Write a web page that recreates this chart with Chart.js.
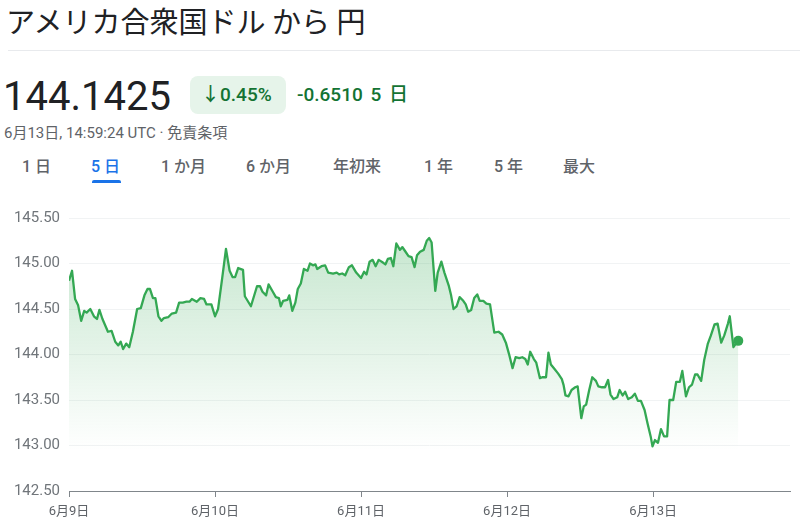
<!DOCTYPE html>
<html>
<head>
<meta charset="utf-8">
<script src="https://cdn.jsdelivr.net/npm/chart.js@4.4.1/dist/chart.umd.min.js"></script>
<style>
  html, body { margin: 0; padding: 0; background: #fff; width: 800px; height: 525px; overflow: hidden; }
  body { position: relative; font-family: Roboto, "Noto Sans CJK JP", sans-serif; }
  .abs { position: absolute; white-space: nowrap; }
  #title { left: 6px; top: 1px; font-size: 29px; color: #202124; font-family: "Noto Sans CJK JP", Roboto, sans-serif; line-height: 38px; }
  #sep { left: 8px; top: 50px; width: 792px; height: 1px; background: #e8eaed; }
  #price { left: 3px; top: 73px; font-size: 40px; color: #202124; line-height: 48px; font-family: Roboto, sans-serif; }
  #badge { left: 190px; top: 76px; width: 96px; height: 38px; background: #e6f4ea; border-radius: 8px; }
  #badgeText { left: 201px; top: 83px; font-size: 19px; font-weight: 500; color: #137333; line-height: 24px; }
  #change { left: 297px; top: 83px; font-size: 19px; font-weight: 500; color: #137333; line-height: 24px; word-spacing: 3px; }
  #stamp { left: 4px; top: 124px; font-size: 15px; color: #5f6368; line-height: 18px; }
  .tab { top: 156px; font-size: 16px; font-weight: 500; color: #5f6368; line-height: 22px; font-family: Roboto, "Noto Sans CJK JP", sans-serif; }
  #tabActive { color: #1a73e8; }
  #underline { left: 92px; top: 180px; width: 29px; height: 3px; background: #1a73e8; border-radius: 2px 2px 0 0; }
  #wrap { position: absolute; left: 0; top: 200px; width: 800px; height: 325px; }
</style>
</head>
<body>
<div class="abs" id="title">アメリカ合衆国ドル から 円</div>
<div class="abs" id="sep"></div>
<div class="abs" id="price">144.1425</div>
<div class="abs" id="badge"></div>
<div class="abs" id="badgeText">↓0.45%</div>
<div class="abs" id="change">-0.6510 5 日</div>
<div class="abs" id="stamp">6月13日, 14:59:24 UTC · 免責条項</div>
<div class="abs tab" style="left:22px">1 日</div>
<div class="abs tab" id="tabActive" style="left:91px">5 日</div>
<div class="abs tab" style="left:161px">1 か月</div>
<div class="abs tab" style="left:246px">6 か月</div>
<div class="abs tab" style="left:333px">年初来</div>
<div class="abs tab" style="left:424px">1 年</div>
<div class="abs tab" style="left:494px">5 年</div>
<div class="abs tab" style="left:563px">最大</div>
<div class="abs" id="underline"></div>
<div id="wrap"><canvas id="c" width="800" height="325"></canvas></div>
<script>
// Hours since 6月9日 00:00
const hours = [
  0.0, 0.5, 1.0, 1.5, 2.0, 2.5, 2.9, 3.5, 4.1, 4.6, 5.0, 5.5, 6.4, 7.0, 7.6, 8.1, 8.5, 8.9, 9.4, 9.9,
  10.5, 11.2, 11.8, 12.4, 12.9, 13.3, 13.8, 14.2, 14.7, 15.2, 15.6, 16.3, 16.9, 17.6, 18.1, 18.7, 19.3, 19.8, 20.2, 21.0,
  21.6, 22.2, 22.6, 23.4, 24.0, 24.5, 25.2, 25.8, 26.4, 26.9, 27.3,
  27.8, 28.6, 28.9, 29.9, 30.9, 31.4, 31.8, 32.4, 32.8, 33.5, 34.0, 34.5, 34.8, 35.2, 35.9, 36.2, 36.7, 37.2, 37.6, 38.1,
  38.6, 39.2, 39.6, 40.1, 40.5, 40.8, 41.5, 42.1, 42.6, 43.4, 44.0, 44.4, 44.9, 45.4, 46.0, 46.5, 47.2, 48.0, 48.5, 48.9,
  49.4, 49.9, 50.4, 50.9, 51.6, 52.0, 52.4, 52.9, 53.3, 53.8,
  54.4, 54.8, 55.2, 55.8, 56.3, 56.8, 57.2, 57.7, 58.3, 58.8, 59.2, 59.6, 60.2, 60.6, 61.2, 61.7, 62.4, 62.8, 63.2, 63.7,
  64.2, 64.8, 65.2, 65.6, 66.1, 66.6, 67.1, 67.5, 68.1, 68.6, 69.2, 69.9, 70.6, 71.2, 71.8, 72.3, 72.9, 73.4, 74.0, 74.5,
  75.0, 75.4, 75.8, 76.4, 76.8, 77.4, 77.8, 78.4, 78.8, 79.2, 79.8, 80.4, 81.0, 81.3, 81.6,
  82.1, 82.6, 83.2, 83.6, 84.2, 84.6, 85.0, 85.5, 86.0, 86.6, 87.0, 87.6, 88.1, 88.6, 89.0, 89.5, 90.1, 90.5, 91.0, 91.4,
  91.9, 92.5, 93.0, 93.5, 94.0, 94.6, 95.1, 95.6, 95.9, 96.3, 96.8, 97.3, 97.8, 98.3, 98.7, 99.3, 99.8, 100.4, 100.8, 101.4,
  101.9, 102.4, 102.9, 103.3, 103.9, 104.4, 105.0, 105.5, 106.1, 106.6, 107.2, 107.7, 108.3, 108.6, 109.2, 109.6, 110.0
];
// USD/JPY rate
const rates = [
  144.81, 144.92, 144.61, 144.54, 144.37, 144.48, 144.46, 144.50, 144.42, 144.39, 144.49, 144.39, 144.25, 144.26, 144.14, 144.10, 144.14, 144.06, 144.12, 144.08,
  144.25, 144.50, 144.51, 144.65, 144.72, 144.72, 144.62, 144.62, 144.42, 144.37, 144.40, 144.41, 144.45, 144.46, 144.57, 144.57, 144.58, 144.58, 144.61, 144.58,
  144.62, 144.61, 144.55, 144.55, 144.42, 144.50, 144.85, 145.16, 144.92, 144.85, 144.85,
  144.95, 144.93, 144.64, 144.53, 144.75, 144.75, 144.69, 144.65, 144.77, 144.69, 144.63, 144.62, 144.53, 144.59, 144.60, 144.65, 144.48, 144.57, 144.72, 144.78,
  144.94, 144.92, 145.00, 144.98, 144.99, 144.94, 144.97, 144.98, 144.90, 144.89, 144.90, 144.88, 144.89, 144.87, 144.96, 144.98, 144.90, 144.84, 144.91, 144.88,
  145.02, 145.04, 144.97, 145.04, 145.01, 144.99, 145.05, 145.06, 144.97, 145.22,
  145.15, 145.18, 145.14, 145.08, 145.07, 144.96, 145.09, 145.13, 145.15, 145.25, 145.28, 145.23, 144.70, 144.90, 145.02, 144.90, 144.76, 144.65, 144.50, 144.53,
  144.63, 144.59, 144.55, 144.47, 144.49, 144.62, 144.66, 144.59, 144.59, 144.56, 144.55, 144.24, 144.25, 144.22, 144.13, 144.01, 143.85, 143.97, 143.96, 143.97,
  143.95, 143.89, 144.03, 143.95, 143.91, 143.74, 143.75, 143.75, 144.02, 143.89, 143.84, 143.79, 143.73, 143.66, 143.55,
  143.54, 143.61, 143.64, 143.65, 143.30, 143.43, 143.45, 143.61, 143.75, 143.71, 143.65, 143.64, 143.64, 143.72, 143.56, 143.51, 143.53, 143.61, 143.55, 143.59,
  143.51, 143.53, 143.57, 143.49, 143.49, 143.39, 143.24, 143.10, 142.99, 143.06, 143.03, 143.18, 143.10, 143.10, 143.50, 143.50, 143.70, 143.70, 143.82, 143.54,
  143.64, 143.67, 143.78, 143.78, 143.71, 143.94, 144.12, 144.21, 144.33, 144.34, 144.13, 144.21, 144.34, 144.42, 144.08, 144.12, 144.15
];
const dayLabels = ['6月9日', '6月10日', '6月11日', '6月12日', '6月13日'];
const dayTickHours = [0, 24, 48, 72, 96];
const yTicks = [142.5, 143.0, 143.5, 144.0, 144.5, 145.0, 145.5];

const GREEN = '#34a853';
const points = hours.map((h, i) => ({ x: h, y: rates[i] }));
const lastIndex = points.length - 1;

new Chart(document.getElementById('c'), {
  type: 'line',
  data: {
    datasets: [{
      data: points,
      borderColor: GREEN,
      borderWidth: 2.3,
      borderJoinStyle: 'round',
      tension: 0,
      fill: 'start',
      backgroundColor: (ctx) => {
        const ca = ctx.chart.chartArea;
        if (!ca) return 'rgba(52,168,83,0.15)';
        const g = ctx.chart.ctx.createLinearGradient(0, ca.top, 0, ca.bottom - 40);
        g.addColorStop(0, 'rgba(52,168,83,0.3)');
        g.addColorStop(1, 'rgba(52,168,83,0.0)');
        return g;
      },
      pointRadius: (ctx) => ctx.dataIndex === lastIndex ? 5 : 0,
      pointHoverRadius: 0,
      pointBackgroundColor: GREEN,
      pointBorderColor: GREEN,
      pointBorderWidth: 0
    }]
  },
  options: {
    responsive: false,
    devicePixelRatio: 1,
    animation: false,
    layout: { padding: { top: 17, right: 10, left: 0, bottom: 0 } },
    plugins: { legend: { display: false }, tooltip: { enabled: false } },
    scales: {
      x: {
        type: 'linear',
        min: 0,
        max: 118.5,
        afterBuildTicks: (s) => { s.ticks = dayTickHours.map(v => ({ value: v })); },
        afterFit: (s) => { s.height = 34; },
        ticks: {
          callback: (v) => dayLabels[dayTickHours.indexOf(v)],
          color: '#5f6368',
          font: { family: 'Roboto, "Noto Sans CJK JP"', size: 13 },
          padding: 7,
          maxRotation: 0,
          autoSkip: false
        },
        grid: { drawOnChartArea: false, drawTicks: true, tickLength: 6, color: '#80868b', lineWidth: 1 },
        border: { display: true, color: '#80868b', width: 1 }
      },
      y: {
        min: 142.5,
        max: 145.5,
        afterBuildTicks: (s) => { s.ticks = yTicks.map(v => ({ value: v })); },
        afterFit: (s) => { s.width = 69; },
        ticks: {
          callback: (v) => Number(v).toFixed(2),
          color: '#70757a',
          font: { family: 'Roboto', size: 15 },
          padding: 9
        },
        grid: { color: '#f1f3f4', drawTicks: false, lineWidth: 1 },
        border: { display: false }
      }
    }
  }
});
</script>
</body>
</html>
